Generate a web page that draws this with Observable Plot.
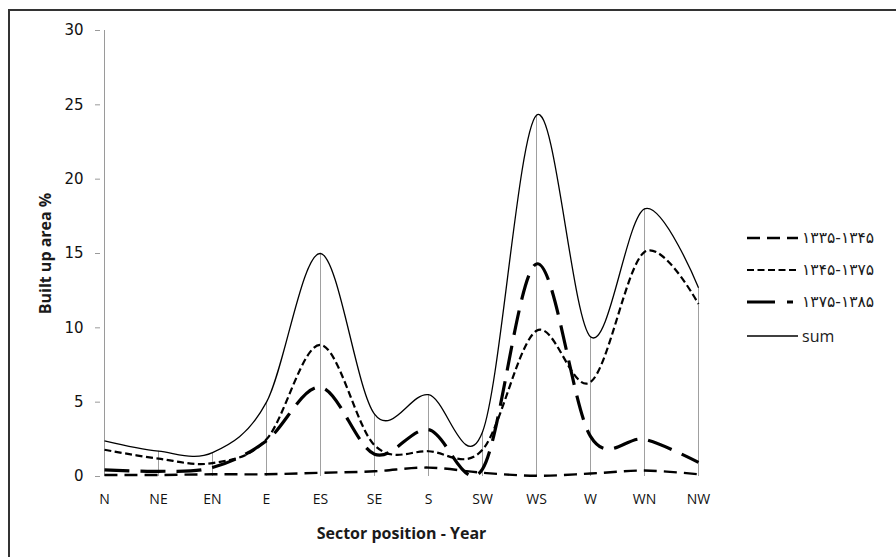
<!DOCTYPE html>
<html>
<head>
<meta charset="utf-8">
<script src="https://cdn.jsdelivr.net/npm/d3@7"></script>
<script src="https://cdn.jsdelivr.net/npm/@observablehq/plot@0.6"></script>
<style>
  html, body { margin: 0; padding: 0; background: #fff; }
  #wrap { position: relative; width: 896px; height: 557px; overflow: hidden; }
  #frame { position: absolute; left: 8px; top: 9px; width: 900px; height: 560px;
           border-top: 2px solid #333; border-left: 2px solid #333; }
  .chart [aria-label="x-axis label"] text,
  .chart [aria-label="y-axis label"] text { font-weight: bold; font-size: 16px; font-family: "Open Sans"; fill: #1a1a1a; }
  .chart [aria-label="y-axis tick label"] text { font-family: "DejaVu Sans"; font-size: 15px; fill: #111; }
  .chart [aria-label="x-axis tick label"] text { font-family: "Open Sans"; font-size: 14px; fill: #111; }
  #legend { position: absolute; left: 0; top: 0; }
</style>
</head>
<body>
<div id="wrap"><div id="frame"></div></div>
<script>
const sectors = ["N","NE","EN","E","ES","SE","S","SW","WS","W","WN","NW"];
const s1335 = [0.1, 0.1, 0.15, 0.15, 0.25, 0.35, 0.6, 0.25, 0.05, 0.2, 0.4, 0.15];
const s1345 = [1.8, 1.2, 0.9, 2.5, 8.85, 2.1, 1.7, 1.8, 9.8, 6.35, 15.1, 11.6];
const s1375 = [0.45, 0.35, 0.6, 2.4, 6.0, 1.5, 3.15, 0.5, 14.3, 2.7, 2.5, 0.95];
const sumVals = [2.4, 1.7, 1.6, 5.0, 15.0, 4.2, 5.5, 3.0, 24.3, 9.4, 18.0, 12.7];
const seriesNames = ["۱۳۳۵-۱۳۴۵", "۱۳۴۵-۱۳۷۵", "۱۳۷۵-۱۳۸۵", "sum"];
const yTicks = [0, 5, 10, 15, 20, 25, 30];

const seriesValues = [s1335, s1345, s1375, sumVals];
const styles = [
  {strokeWidth: 2.4, strokeDasharray: "13,7"},
  {strokeWidth: 2.2, strokeDasharray: "7,3.5"},
  {strokeWidth: 3.2, strokeDasharray: "25,11"},
  {strokeWidth: 1.3, strokeDasharray: null}
];
const rows = sectors.map((s, i) => ({sector: s, sum: sumVals[i]}));

const lineMarks = seriesValues.map((vals, k) =>
  Plot.line(sectors.map((s, i) => ({sector: s, value: vals[i]})), {
    x: "sector", y: "value", curve: "cardinal", stroke: "black",
    strokeWidth: styles[k].strokeWidth, strokeDasharray: styles[k].strokeDasharray,
    strokeLinecap: "butt"
  })
);

const chart = Plot.plot({
  width: 896, height: 557,
  marginLeft: 100, marginRight: 194, marginTop: 30, marginBottom: 81,
  className: "chart",
  style: {fontFamily: "Open Sans", fontSize: "12px", color: "#222"},
  x: {type: "point", domain: sectors, padding: 0, label: null},
  y: {domain: [0, 30], label: null},
  marks: [
    Plot.gridY(yTicks, {stroke: "#9a9a9a", strokeOpacity: 1, x1: 95, x2: 702}),
    Plot.ruleX(rows, {x: "sector", y1: 0, y2: "sum", stroke: "#a0a0a0", strokeWidth: 1}),
    Plot.ruleY([0], {stroke: "#9a9a9a", x1: 95, x2: 702}),
    Plot.ruleX([sectors[0]], {y1: 0, y2: 30, stroke: "#9a9a9a"}),
    Plot.axisY(yTicks, {tickSize: 5, tickPadding: 12, stroke: "#9a9a9a", label: "Built up area %",
      labelAnchor: "center", labelOffset: 61, labelArrow: "none"}),
    Plot.axisX(sectors, {tickSize: 0, tickPadding: 18, label: "Sector position - Year",
      labelAnchor: "center", labelOffset: 62, labelArrow: "none"}),
    ...lineMarks
  ]
});
document.getElementById("wrap").appendChild(chart);

// legend overlay
const ns = "http://www.w3.org/2000/svg";
const leg = document.createElementNS(ns, "svg");
leg.setAttribute("id", "legend");
leg.setAttribute("width", 896);
leg.setAttribute("height", 557);
const rowY = [238, 270, 302, 336];
seriesNames.forEach((name, k) => {
  const ln = document.createElementNS(ns, "line");
  ln.setAttribute("x1", 747); ln.setAttribute("x2", k === 2 ? 793 : 798);
  ln.setAttribute("y1", rowY[k]); ln.setAttribute("y2", rowY[k]);
  ln.setAttribute("stroke", "black");
  ln.setAttribute("stroke-width", styles[k].strokeWidth);
  if (styles[k].strokeDasharray) ln.setAttribute("stroke-dasharray", k === 2 ? "28,12" : styles[k].strokeDasharray);
  leg.appendChild(ln);
  const t = document.createElementNS(ns, "text");
  t.setAttribute("x", 802); t.setAttribute("y", rowY[k]);
  t.setAttribute("dy", "0.35em");
  t.setAttribute("font-family", k === 3 ? "Open Sans" : "DejaVu Sans");
  t.setAttribute("font-size", k === 3 ? "16px" : "15.5px");
  t.setAttribute("fill", "#1a1a1a");
  t.textContent = name;
  leg.appendChild(t);
});
document.getElementById("wrap").appendChild(leg);
chart.style.position = "absolute"; chart.style.left = "0"; chart.style.top = "0";
</script>
</body>
</html>
